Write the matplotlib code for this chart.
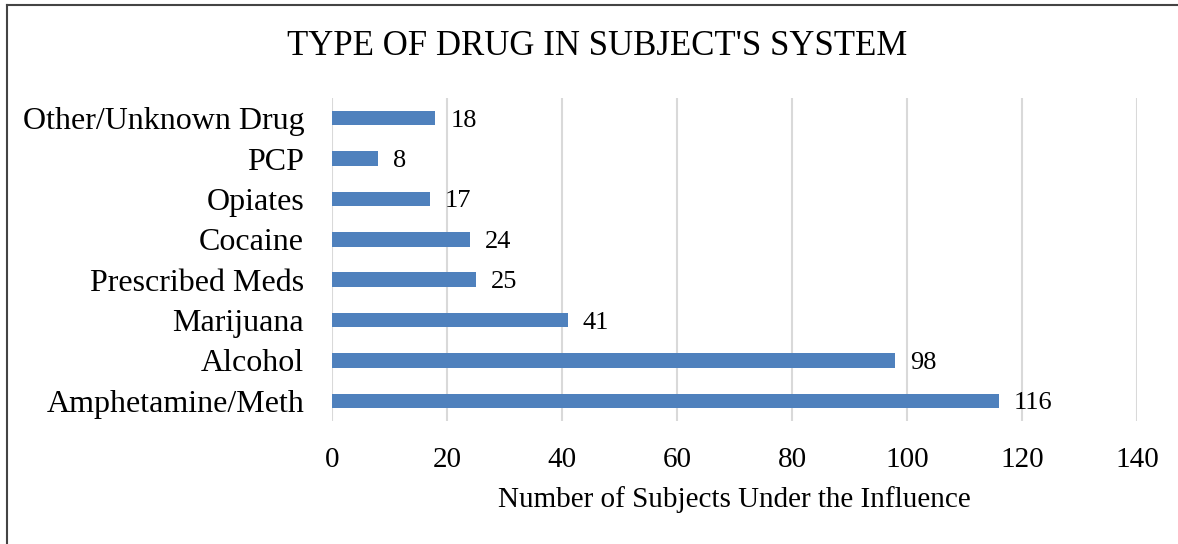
import numpy as np
import matplotlib.pyplot as plt
from matplotlib.lines import Line2D

# data, bottom to top
drugs = ['Amphetamine/Meth', 'Alcohol', 'Marijuana', 'Prescribed Meds',
         'Cocaine', 'Opiates', 'PCP', 'Other/Unknown Drug']
counts = [116, 98, 41, 25, 24, 17, 8, 18]
xticks = [0, 20, 40, 60, 80, 100, 120, 140]

plt.rcParams['font.family'] = ['Liberation Serif', 'DejaVu Serif']

fig = plt.figure(figsize=(11.78, 5.44), dpi=100)
ax = fig.add_axes([0.2818, 0.2261, 0.6834, 0.5938])

y = np.arange(len(drugs))
ax.barh(y, counts, height=0.36, color='#4F81BD', zorder=3)
for yi, c in zip(y, counts):
    ax.text(c + 2.6, yi, str(c), va='center_baseline', ha='left', fontsize=19)

ax.set_xlim(0, 140)
ax.set_ylim(-0.5, len(drugs) - 0.5)
ax.set_xticks(xticks)
ax.set_yticks(y)
ax.set_yticklabels(drugs, fontsize=23)
ax.tick_params(axis='x', labelsize=21, length=0, pad=19)
ax.tick_params(axis='y', length=0, pad=20)
ax.grid(axis='x', color='#d9d9d9', linewidth=1.5, zorder=0)
for s in ax.spines.values():
    s.set_visible(False)

ax.set_xlabel('Number of Subjects Under the Influence', fontsize=21, labelpad=9)
fig.text(0.507, 0.915, "TYPE OF DRUG IN SUBJECT'S SYSTEM", ha='center', va='center', fontsize=25)

# border of the chart area
fig.add_artist(Line2D([0.006, 0.006], [0, 0.99], transform=fig.transFigure, color='#444444', lw=1.5))
fig.add_artist(Line2D([0.006, 1], [0.99, 0.99], transform=fig.transFigure, color='#444444', lw=1.5))

fig.savefig('out.png', dpi=100)
